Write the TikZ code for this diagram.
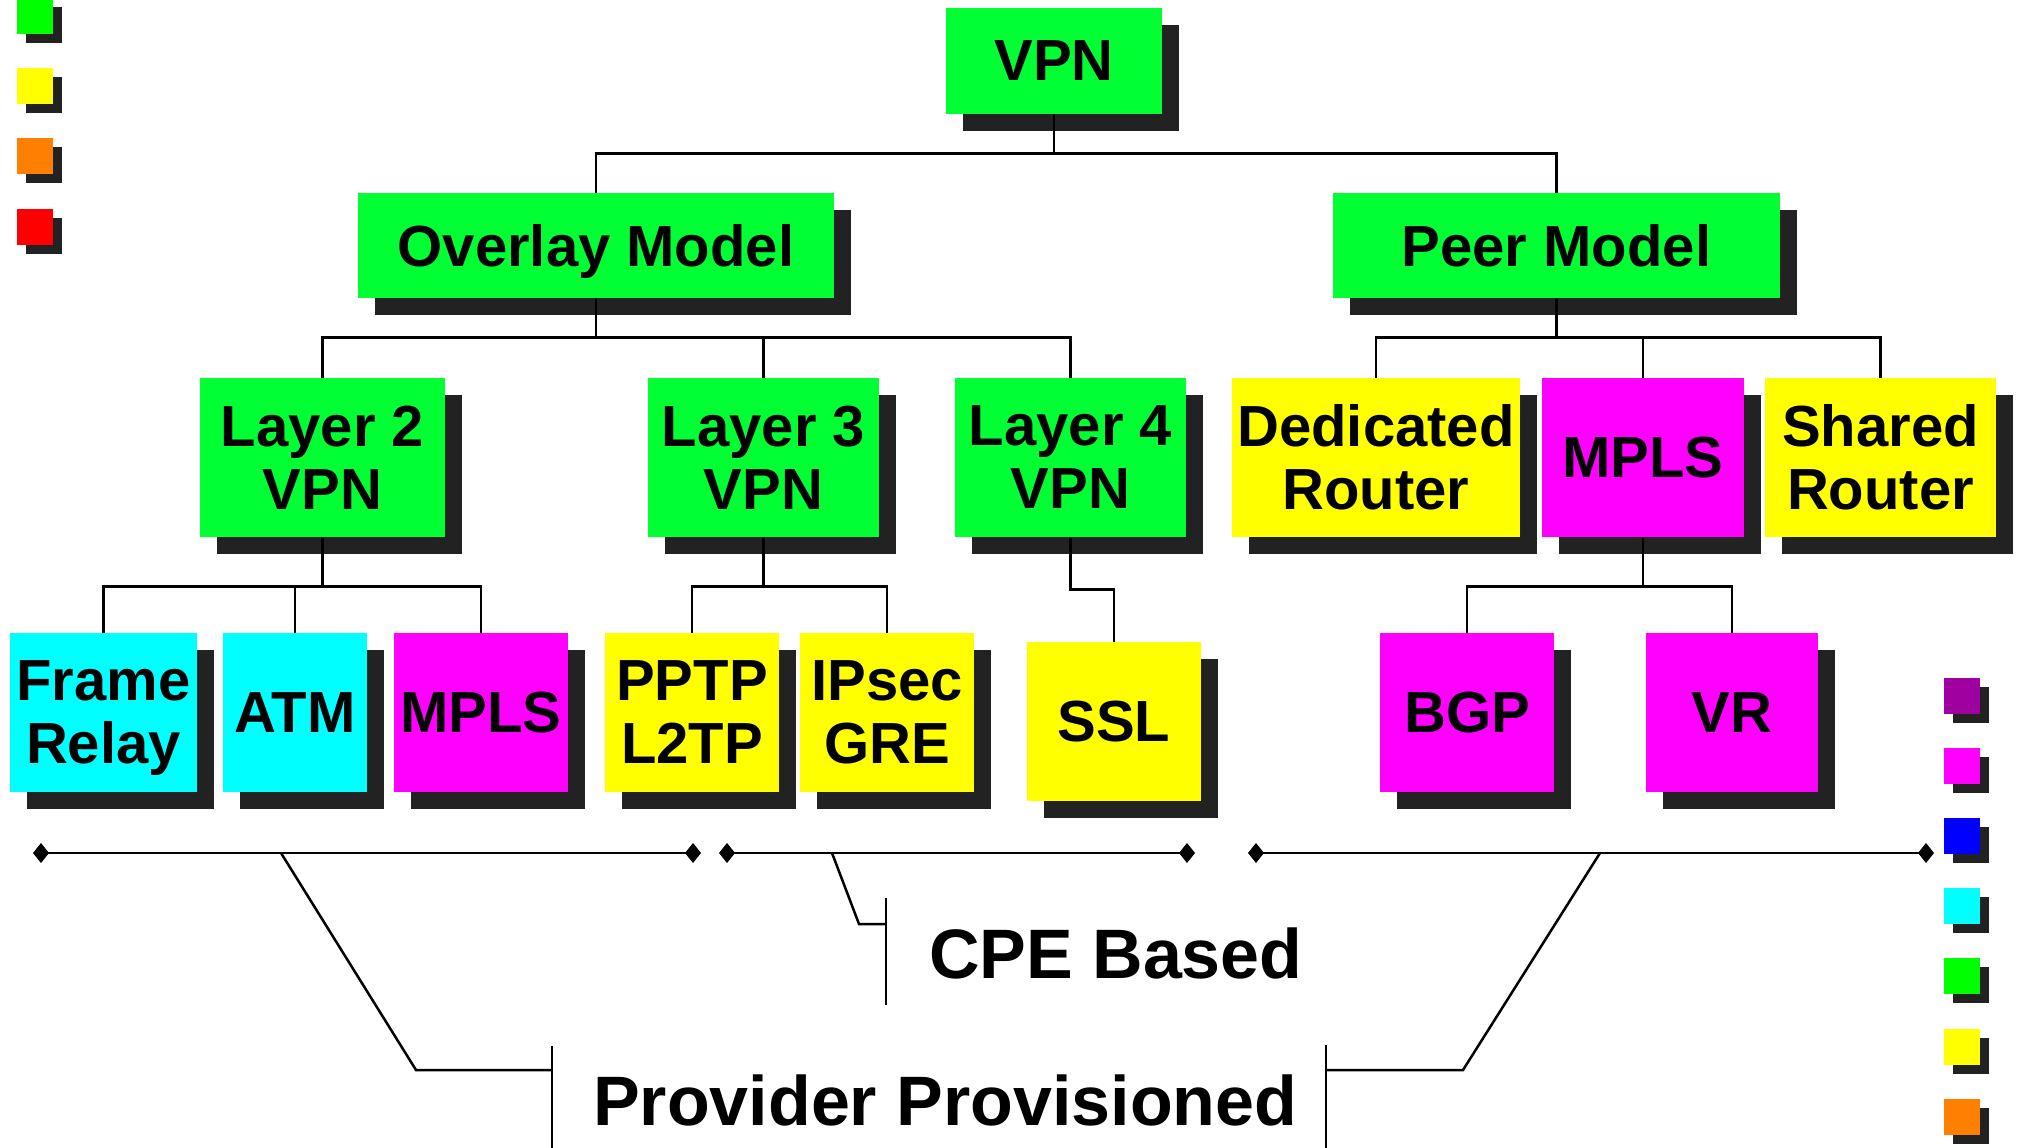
\documentclass[tikz,border=0pt]{standalone}
\usepackage{fontspec}
\setmainfont{Liberation Sans}
\usetikzlibrary{calc,arrows.meta}
\pgfdeclarelayer{shadowlayer}
\pgfdeclarelayer{linelayer}
\pgfsetlayers{shadowlayer,linelayer,main}
\definecolor{ngreen}{RGB}{0,255,51}
\definecolor{lgreen}{RGB}{0,255,0}
\definecolor{nyellow}{RGB}{255,255,0}
\definecolor{ncyan}{RGB}{0,255,255}
\definecolor{nmagenta}{RGB}{255,0,255}
\definecolor{norange}{RGB}{255,128,0}
\definecolor{nred}{RGB}{255,0,0}
\definecolor{npurple}{RGB}{160,0,160}
\definecolor{nblue}{RGB}{0,0,255}
\definecolor{shadowc}{RGB}{34,34,34}
\tikzset{
  box/.style={rectangle, inner sep=0pt, align=center, text=black,
    font=\fontsize{58}{63}\selectfont\bfseries},
  lbl/.style={inner sep=0pt, text=black, font=\fontsize{70}{80}\selectfont\bfseries},
  conn/.style={line width=2.8pt, black},
  brk/.style={line width=2.5pt, black, {Diamond[length=16pt,width=20pt]}-{Diamond[length=16pt,width=20pt]}},
  call/.style={line width=2.5pt, black},
  legsq/.style={rectangle, inner sep=0pt, minimum width=36pt, minimum height=36pt}
}
\begin{document}
\begin{tikzpicture}[x=1pt,y=-1pt]
\useasboundingbox (0,0) rectangle (2019,1148);
% tree boxes
\node[box, fill=ngreen, minimum width=216pt, minimum height=106pt] (vpn) at (1054,61) {VPN};
\node[box, fill=ngreen, minimum width=476pt, minimum height=105pt] (overlay) at (596,245.5) {Overla\smash{y} Model};
\node[box, fill=ngreen, minimum width=447pt, minimum height=105pt] (peer) at (1556.5,245.5) {Peer Model};
\node[box, fill=ngreen, minimum width=245pt, minimum height=159pt] (l2) at (322.5,457.5) {Layer 2\\VPN};
\node[box, fill=ngreen, minimum width=231pt, minimum height=159pt] (l3) at (763.5,457.5) {Layer 3\\VPN};
\node[box, fill=ngreen, minimum width=231pt, minimum height=159pt] (l4) at (1070.5,457.5) {Layer 4\\VPN};
\node[box, fill=nyellow, minimum width=288pt, minimum height=159pt] (ded) at (1376,457.5) {Dedicated\\Router};
\node[box, fill=nmagenta, minimum width=202pt, minimum height=159pt] (mplsp) at (1643,457.5) {MPLS};
\node[box, fill=nyellow, minimum width=231pt, minimum height=159pt] (shared) at (1880.5,457.5) {Shared\\Router};
\node[box, fill=ncyan, minimum width=187pt, minimum height=159pt] (fr) at (103.5,712.5) {Frame\\Rela\smash{y}};
\node[box, fill=ncyan, minimum width=144pt, minimum height=159pt] (atm) at (295,712.5) {ATM};
\node[box, fill=nmagenta, minimum width=174pt, minimum height=159pt] (mplsl) at (481,712.5) {MPLS};
\node[box, fill=nyellow, minimum width=174pt, minimum height=159pt] (pptp) at (692,712.5) {PPTP\\L2TP};
\node[box, fill=nyellow, minimum width=174pt, minimum height=159pt] (ipsec) at (887,712.5) {IPsec\\GRE};
\node[box, fill=nyellow, minimum width=174pt, minimum height=159pt] (ssl) at (1114,721.5) {SSL};
\node[box, fill=nmagenta, minimum width=174pt, minimum height=159pt] (bgp) at (1467,712.5) {BGP};
\node[box, fill=nmagenta, minimum width=172pt, minimum height=159pt] (vr) at (1732,712.5) {VR};
% legend squares
\node[legsq, fill=lgreen] (lgA) at (35,16) {};
\node[legsq, fill=nyellow] (lgB) at (35,86) {};
\node[legsq, fill=norange] (lgC) at (35,156) {};
\node[legsq, fill=nred] (lgD) at (35,227) {};
\node[legsq, fill=npurple] (rgA) at (1962,696) {};
\node[legsq, fill=nmagenta] (rgB) at (1962,766) {};
\node[legsq, fill=nblue] (rgC) at (1962,836) {};
\node[legsq, fill=ncyan] (rgD) at (1962,906) {};
\node[legsq, fill=lgreen] (rgE) at (1962,976) {};
\node[legsq, fill=nyellow] (rgF) at (1962,1047) {};
\node[legsq, fill=norange] (rgG) at (1962,1117) {};
% shadows
\begin{pgfonlayer}{shadowlayer}
\foreach \n in {vpn,overlay,peer,l2,l3,l4,ded,mplsp,shared,fr,atm,mplsl,pptp,ipsec,ssl,bgp,vr}
  \fill[shadowc] ($(\n.south west)+(17,17)$) rectangle ($(\n.north east)+(17,17)$);
\foreach \n in {lgA,lgB,lgC,lgD,rgA,rgB,rgC,rgD,rgE,rgF,rgG}
  \fill[shadowc] ($(\n.south west)+(9,9)$) rectangle ($(\n.north east)+(9,9)$);
\end{pgfonlayer}
% connectors
\begin{pgfonlayer}{linelayer}
\draw[conn] (vpn.south) -- ++(0,39) coordinate (b1);
\draw[conn] (overlay.north) |- (b1) -| (peer.north);
\draw[conn] (overlay.south) -- ++(0,39) coordinate (b2);
\draw[conn] (l2.north) |- (b2) -| (l4.north);
\draw[conn] (l3.north) -- (l3.north |- b2);
\draw[conn] (peer.south) -- ++(0,39) coordinate (b3);
\draw[conn] (ded.north) |- (b3) -| (shared.north);
\draw[conn] (mplsp.north) -- (mplsp.north |- b3);
\draw[conn] (l2.south) -- ++(0,49) coordinate (b4);
\draw[conn] (fr.north) |- (b4) -| (mplsl.north);
\draw[conn] (atm.north) -- (atm.north |- b4);
\draw[conn] (l3.south) -- ++(0,49) coordinate (b5);
\draw[conn] (pptp.north) |- (b5) -| (ipsec.north);
\draw[conn] (l4.south) -- ++(0,52) -| (ssl.north);
\draw[conn] (mplsp.south) -- ++(0,49) coordinate (b6);
\draw[conn] (bgp.north) |- (b6) -| (vr.north);
\end{pgfonlayer}
% brackets
\coordinate (br1a) at (33,853);
\coordinate (br1b) at (701,853);
\coordinate (br2a) at (719,853);
\coordinate (br2b) at (1195,853);
\coordinate (br3a) at (1248,853);
\coordinate (br3b) at (1934,853);
\draw[brk] (br1a) -- (br1b);
\draw[brk] (br2a) -- (br2b);
\draw[brk] (br3a) -- (br3b);
% labels
\node[lbl, anchor=base west] (cpe) at (929,978) {CPE Based};
\node[lbl, anchor=base west] (prov) at (593,1125) {Provider Provisioned};
% callouts
\coordinate (c1) at (832,853);
\coordinate (c1k) at (859,924);
\coordinate (c1m) at (886,924);
\coordinate (c1t) at (886,898);
\coordinate (c1b) at (886,1005);
\draw[call] (c1) -- (c1k) -- (c1m);
\draw[call] (c1t) -- (c1b);
\coordinate (p1) at (281,853);
\coordinate (p1k) at (416,1070);
\coordinate (p1m) at (552,1070);
\coordinate (p1t) at (552,1046);
\coordinate (p1b) at (552,1152);
\draw[call] (p1) -- (p1k) -- (p1m);
\draw[call] (p1t) -- (p1b);
\coordinate (p2) at (1600,853);
\coordinate (p2k) at (1463,1070);
\coordinate (p2m) at (1326,1070);
\coordinate (p2t) at (1326,1045);
\coordinate (p2b) at (1326,1152);
\draw[call] (p2) -- (p2k) -- (p2m);
\draw[call] (p2t) -- (p2b);
\end{tikzpicture}
\end{document}
